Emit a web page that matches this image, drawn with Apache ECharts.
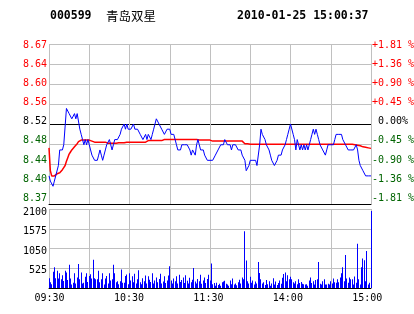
<!DOCTYPE html>
<html><head><meta charset="utf-8">
<script src="https://cdn.jsdelivr.net/npm/echarts@6/dist/echarts.min.js"></script>
<style>html,body{margin:0;padding:0;background:#fff}#c{width:414px;height:314px}</style>
</head><body><div id="c"></div>
<script>
const stockCode = '000599';
const stockName = '青岛双星';
const stamp = '2010-01-25 15:00:37';
const prevClose = 8.52;
const pctRange = 1.81;
const priceTicks = ['8.37','8.40','8.44','8.48','8.52','8.56','8.60','8.64','8.67'];
const pctTicks = ['-1.81 %','-1.36 %','-0.90 %','-0.45 %',' 0.00%','+0.45 %','+0.90 %','+1.36 %','+1.81 %'];
const volTicks = ['525','1050','1575','2100'];
const volMax = 2100;
const timeLabels = ['09:30','10:30','11:30','14:00','15:00'];

const price = [
8.42,8.41,8.41,8.40,8.41,8.42,8.42,8.44,8.47,8.47,
8.47,8.48,8.48,8.55,8.55,8.54,8.54,8.53,8.53,8.54,
8.53,8.54,8.54,8.51,8.50,8.49,8.48,8.49,8.48,8.49,
8.48,8.47,8.46,8.46,8.45,8.45,8.45,8.46,8.47,8.46,
8.45,8.46,8.47,8.48,8.48,8.49,8.48,8.47,8.48,8.49,
8.49,8.49,8.49,8.50,8.51,8.51,8.52,8.51,8.52,8.51,
8.51,8.51,8.51,8.52,8.51,8.51,8.51,8.51,8.50,8.50,
8.49,8.49,8.50,8.49,8.50,8.50,8.49,8.50,8.51,8.52,
8.53,8.53,8.52,8.52,8.51,8.51,8.50,8.50,8.51,8.51,
8.51,8.50,8.50,8.50,8.49,8.48,8.47,8.47,8.47,8.48,
8.48,8.48,8.48,8.48,8.48,8.47,8.46,8.47,8.47,8.46,
8.48,8.49,8.48,8.47,8.47,8.47,8.46,8.46,8.45,8.45,
8.45,8.45,8.45,8.45,8.46,8.46,8.47,8.47,8.48,8.48,
8.48,8.49,8.49,8.48,8.48,8.48,8.47,8.48,8.48,8.48,
8.48,8.47,8.47,8.47,8.46,8.46,8.45,8.43,8.43,8.44,
8.45,8.45,8.45,8.45,8.45,8.44,8.44,8.48,8.51,8.50,
8.50,8.49,8.48,8.48,8.47,8.46,8.45,8.45,8.44,8.44,
8.45,8.46,8.46,8.46,8.47,8.47,8.48,8.49,8.50,8.51,
8.52,8.52,8.50,8.49,8.47,8.49,8.49,8.47,8.48,8.47,
8.48,8.47,8.48,8.47,8.48,8.49,8.50,8.51,8.50,8.51,
8.50,8.49,8.48,8.48,8.47,8.47,8.46,8.47,8.48,8.48,
8.48,8.48,8.48,8.49,8.50,8.50,8.50,8.50,8.50,8.49,
8.49,8.48,8.48,8.47,8.47,8.47,8.47,8.47,8.47,8.48,
8.47,8.45,8.44,8.44,8.43,8.43,8.42,8.42,8.42,8.42,
8.42
];

const avgPrice = [
8.474,8.430,8.420,8.418,8.420,8.422,8.424,8.425,8.426,8.428,
8.432,8.436,8.440,8.448,8.455,8.462,8.466,8.470,8.473,8.476,
8.478,8.482,8.486,8.488,8.489,8.489,8.489,8.489,8.489,8.489,
8.489,8.487,8.487,8.487,8.485,8.485,8.485,8.485,8.485,8.485,
8.485,8.485,8.485,8.483,8.483,8.483,8.483,8.483,8.483,8.483,
8.483,8.484,8.484,8.484,8.484,8.484,8.484,8.485,8.485,8.485,
8.485,8.485,8.485,8.485,8.485,8.485,8.485,8.485,8.485,8.485,
8.485,8.485,8.485,8.485,8.488,8.488,8.488,8.488,8.488,8.488,
8.488,8.488,8.488,8.488,8.488,8.490,8.490,8.490,8.490,8.490,
8.490,8.490,8.490,8.490,8.490,8.490,8.490,8.490,8.490,8.490,
8.490,8.490,8.490,8.490,8.490,8.490,8.490,8.490,8.490,8.490,
8.490,8.489,8.489,8.489,8.489,8.489,8.489,8.489,8.489,8.489,
8.489,8.487,8.487,8.487,8.487,8.487,8.487,8.487,8.487,8.487,
8.487,8.487,8.487,8.487,8.487,8.487,8.487,8.487,8.487,8.487,
8.487,8.487,8.487,8.487,8.487,8.487,8.482,8.482,8.482,8.482,
8.481,8.481,8.481,8.481,8.481,8.481,8.481,8.481,8.481,8.481,
8.481,8.481,8.481,8.481,8.481,8.481,8.481,8.481,8.481,8.481,
8.481,8.481,8.481,8.481,8.481,8.481,8.481,8.481,8.481,8.481,
8.481,8.481,8.481,8.481,8.481,8.481,8.481,8.481,8.481,8.481,
8.481,8.481,8.481,8.481,8.481,8.481,8.481,8.481,8.481,8.481,
8.481,8.481,8.481,8.481,8.481,8.481,8.481,8.481,8.481,8.481,
8.481,8.481,8.481,8.481,8.481,8.481,8.481,8.481,8.481,8.481,
8.481,8.481,8.481,8.481,8.481,8.481,8.481,8.481,8.480,8.479,
8.479,8.478,8.478,8.477,8.476,8.476,8.475,8.474,8.474,8.473,
8.473
];

const volume = [
258,156,100,430,550,258,460,250,395,230,
340,184,460,414,212,616,250,92,140,395,
120,276,640,230,414,120,140,300,395,160,
320,368,250,754,258,230,230,460,156,230,
395,92,250,320,120,395,200,230,616,395,
150,180,100,180,490,140,140,320,360,100,
390,200,310,150,380,120,230,470,150,100,
260,180,330,120,310,220,160,390,120,200,
280,150,240,380,120,170,310,130,200,330,
575,200,120,250,180,310,120,350,160,210,
280,130,340,190,120,270,150,220,530,170,
120,240,180,350,110,200,280,130,240,350,
200,650,100,130,60,140,80,110,60,150,
170,190,110,90,60,200,100,250,90,120,
70,150,220,120,280,230,1506,730,180,120,
300,140,200,90,170,120,690,400,230,120,
150,80,210,100,180,60,120,260,90,170,
80,130,200,110,270,370,410,180,340,230,
300,230,150,120,180,100,230,130,160,110,
100,90,100,60,200,276,130,180,90,210,
230,690,110,90,180,230,90,90,110,90,
180,120,250,150,140,230,150,280,395,552,
180,874,250,140,280,230,230,90,304,140,
1178,230,90,552,782,736,180,984,90,140,
2050
];

const RED = '#ff0000', GREEN = '#006400', BLACK = '#000000', GRID = '#c0c0c0', BLUE = '#0000ff';
const MONO = 'DejaVu Sans Mono';
const labelRich = {
  r: {color: RED, fontFamily: MONO, fontSize: 10},
  k: {color: BLACK, fontFamily: MONO, fontSize: 10},
  g: {color: GREEN, fontFamily: MONO, fontSize: 10}
};
function styleFor(i) { return i > 4 ? 'r' : (i === 4 ? 'k' : 'g'); }
const idx9 = [0,1,2,3,4,5,6,7,8];

const chart = echarts.init(document.getElementById('c'), null, {renderer: 'canvas'});
const hiddenParts = {axisLine: {show: false}, axisTick: {show: false}, splitLine: {show: false}};

function renderVolBar(params, api) {
  const top = api.coord([api.value(0), api.value(1)]);
  const base = api.coord([api.value(0), 0]);
  const x = Math.floor(top[0]);
  return {
    type: 'rect',
    shape: {x: x, y: top[1], width: 1, height: base[1] - top[1]},
    style: {fill: BLUE}
  };
}

chart.setOption({
  animation: false,
  backgroundColor: '#ffffff',
  title: [
    {text: stockCode, left: 50, top: 10, padding: 0,
     textStyle: {fontFamily: MONO, fontWeight: 'bold', fontSize: 11.5, color: BLACK}},
    {text: stockName, left: 106, top: 10, padding: 0,
     textStyle: {fontFamily: 'Noto Sans CJK SC', fontWeight: 'normal', fontSize: 12.5, color: BLACK}},
    {text: stamp, left: 237, top: 10, padding: 0,
     textStyle: {fontFamily: MONO, fontWeight: 'bold', fontSize: 11.5, color: BLACK}}
  ],
  grid: [
    {left: 49, top: 44, width: 322, height: 160, containLabel: false, outerBoundsMode: 'none'},
    {left: 49, top: 209, width: 322, height: 79, containLabel: false, outerBoundsMode: 'none'}
  ],
  xAxis: [
    {type: 'value', gridIndex: 0, min: 0, max: 240, interval: 30,
     axisLine: {show: true, onZero: false, lineStyle: {color: BLACK, width: 1}},
     axisTick: {show: false}, axisLabel: {show: false},
     splitLine: {show: true, showMinLine: true, showMaxLine: true, lineStyle: {color: GRID, width: 1}}},
    {type: 'value', gridIndex: 1, min: 0, max: 240, interval: 30,
     axisLine: {show: true, onZero: false, lineStyle: {color: BLACK, width: 1}},
     axisTick: {show: false}, axisLabel: {show: false},
     splitLine: {show: true, showMinLine: true, showMaxLine: true, lineStyle: {color: GRID, width: 1}}},
    Object.assign({type: 'value', gridIndex: 1, min: -0.378, max: 242.8, position: 'bottom',
     axisLabel: {show: true, customValues: [0,60,120,180,240], margin: 5,
       fontFamily: MONO, fontSize: 10, color: BLACK,
       formatter: v => timeLabels[Math.round(v / 60)]}}, hiddenParts)
  ],
  yAxis: [
    {type: 'value', gridIndex: 0, show: false,
     min: prevClose * (1 - pctRange / 100), max: prevClose * (1 + pctRange / 100)},
    {type: 'value', gridIndex: 0, min: 0, max: 8, interval: 1,
     axisLine: {show: false}, axisTick: {show: false}, axisLabel: {show: false},
     splitLine: {show: true, showMinLine: true, showMaxLine: true,
       lineStyle: {width: 1, color: [BLACK, GRID, GRID, GRID, BLACK, GRID, GRID, GRID, GRID]}}},
    Object.assign({type: 'value', gridIndex: 0, min: -0.315, max: 8.089, position: 'left',
     axisLabel: {show: true, customValues: idx9, margin: 2, rich: labelRich,
       formatter: v => { const i = Math.round(v); return '{' + styleFor(i) + '|' + priceTicks[i] + '}'; }}}, hiddenParts),
    Object.assign({type: 'value', gridIndex: 0, min: -0.315, max: 8.089, position: 'right',
     axisLabel: {show: true, customValues: idx9, margin: 1, rich: labelRich,
       formatter: v => { const i = Math.round(v); return '{' + styleFor(i) + '|' + pctTicks[i] + '}'; }}}, hiddenParts),
    {type: 'value', gridIndex: 1, min: 0, max: volMax, interval: volMax / 4,
     axisLine: {show: false}, axisTick: {show: false}, axisLabel: {show: false},
     splitLine: {show: true, showMinLine: true, showMaxLine: true,
       lineStyle: {width: 1, color: [BLACK, GRID, GRID, GRID, GRID]}}},
    Object.assign({type: 'value', gridIndex: 1, min: 41, max: 2201, position: 'left',
     axisLabel: {show: true, customValues: volTicks.map(Number), margin: 2,
       fontFamily: MONO, fontSize: 10, color: BLACK,
       formatter: v => volTicks[volTicks.map(Number).indexOf(Math.round(v))]}}, hiddenParts)
  ],
  series: [
    {type: 'custom', xAxisIndex: 1, yAxisIndex: 4, renderItem: renderVolBar,
     encode: {x: 0, y: 1}, data: volume.map((v, i) => [i, v])},
    {type: 'line', xAxisIndex: 0, yAxisIndex: 0, showSymbol: false, symbol: 'none',
     lineStyle: {color: RED, width: 1.5}, data: avgPrice.map((v, i) => [i, v])},
    {type: 'line', xAxisIndex: 0, yAxisIndex: 0, showSymbol: false, symbol: 'none',
     lineStyle: {color: BLUE, width: 1}, data: price.map((v, i) => [i, v])}
  ]
});
</script></body></html>
